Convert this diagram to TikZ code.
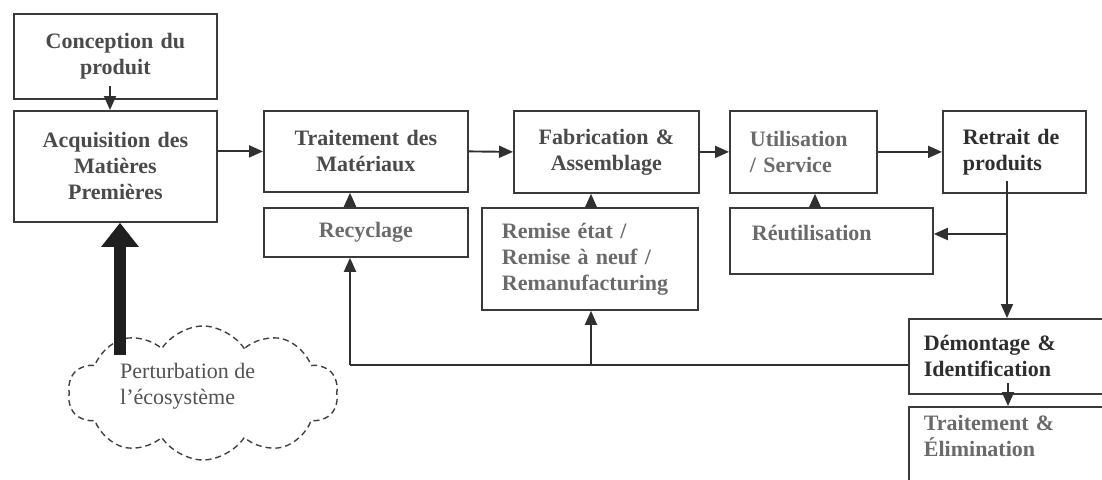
\documentclass[tikz,border=0pt]{standalone}
\usepackage{fontspec}
\setmainfont{Liberation Serif}
\usetikzlibrary{arrows.meta,shapes.symbols}
\definecolor{boxc}{HTML}{3A3A3A}
\definecolor{linec}{HTML}{303030}
\definecolor{txtdark}{HTML}{2E2E2E}
\definecolor{txtmid}{HTML}{4A4A4A}
\definecolor{txtlight}{HTML}{6A6A6A}
\begin{document}
\begin{tikzpicture}[x=1pt,y=-1pt,
  box/.style={draw=boxc, line width=1.8pt, anchor=north west, inner ysep=2pt,
    font=\fontsize{22}{26}\selectfont\bfseries},
  mid/.style={text=txtmid, align=center},
  light/.style={text=txtlight},
  dark/.style={text=txtdark},
  arr/.style={draw=linec, line width=1.9pt, -{Triangle[length=14pt,width=12pt]}},
  plain/.style={draw=linec, line width=1.9pt},
  thick arrow/.style={draw=black!88, line width=12pt, -{Triangle[length=24pt,width=36pt]}},
]
\useasboundingbox (0,0) rectangle (1102,479);
\begin{scope}
\clip (0,0) rectangle (1102,479);

% main chain of boxes
\node[box,mid,minimum width=203pt,minimum height=85pt,text width=185pt] (conc) at (13,13) {Conception du\\produit};
\node[box,mid,minimum width=203pt,minimum height=111pt,text width=185pt] (acq) at (13,110) {Acquisition des\\Matières\\Premières};
\node[box,mid,minimum width=204pt,minimum height=81pt,text width=186pt] (trait) at (263,110) {Traitement des\\Matériaux};
\node[box,mid,minimum width=185pt,minimum height=82pt,text width=167pt] (fab) at (513,110) {Fabrication \&\\Assemblage};
\node[box,light,align=left,inner xsep=20pt,minimum width=147pt,minimum height=82pt,text width=107pt] (util) at (729,110) {Utilisation\\/ Service};
\node[box,dark,align=left,inner xsep=20pt,minimum width=143pt,minimum height=82pt,text width=103pt] (retrait) at (942,110) {Retrait de\\produits};

% recovery boxes
\node[box,light,align=center,minimum width=204pt,minimum height=49pt,text width=186pt] (recy) at (263,207) {Recyclage};
\node[box,light,align=left,inner xsep=20pt,minimum width=216pt,minimum height=102pt,text width=176pt] (remise) at (481,207) {Remise état /\\Remise à neuf /\\Remanufacturing};
\node[box,light,align=left,inner xsep=22pt,minimum width=203pt,text height=31pt,text depth=31pt,text width=159pt] (reut) at (729,207) {Réutilisation};
\node[box,dark,align=left,inner xsep=15pt,minimum width=240pt,minimum height=75pt,text width=210pt] (demont) at (908,318) {Démontage \&\\Identification};
\node[box,light,align=left,inner xsep=15pt,inner ysep=8pt,minimum width=240pt,text depth=70pt,text width=210pt] (elim) at (908,406) {Traitement \&\\Élimination};

% ecosystem cloud
\node[cloud, draw=black!75, dashed, dash pattern=on 6pt off 4pt, line width=1.4pt,
  cloud puffs=10, cloud puff arc=115, aspect=2,
  minimum width=270pt, minimum height=134pt] (cloud) at (203,393) {};
\node[anchor=north west, inner sep=0pt, align=left, text=black!68,
  font=\fontsize{22}{26}\selectfont] (ptxt) at (120,363) {Perturbation de\\l’écosystème};

% routing points
\coordinate (thk) at (120,355);
\coordinate (c1) at (350,365);
\coordinate (c2) at (591,365);
\coordinate (c3) at (815,240);
\coordinate (c4) at (1007,234);
\coordinate (r0) at (1007,181);
\coordinate (d0) at (1008,383);
\coordinate (k0) at (110,86);

% forward flow
\draw[arr] (k0) -- (k0 |- acq.north);
\draw[arr] (acq.east |- trait.west) -- (trait.west);
\draw[arr] (trait.east) -- (fab.west);
\draw[arr] (fab.east) -- (util.west);
\draw[arr] (util.east) -- (retrait.west);

% recovery loops
\draw[arr] (c1 |- recy.north) -- (c1 |- trait.south);
\draw[arr] (c2 |- remise.north) -- (c2 |- fab.south);
\draw[arr] (c3 |- reut.north) -- (c3 |- util.south);
\draw[arr] (r0) -- (c4 |- demont.north);
\draw[arr] (c4) -- (c4 -| reut.east);
\draw[arr] (d0) -- (d0 |- elim.north);
\draw[plain] (c1 -| demont.west) -- (c1);
\draw[arr] (c1) -- (c1 |- recy.south);
\draw[arr] (c2) -- (c2 |- remise.south);

% ecosystem pressure
\draw[thick arrow] (thk) -- (thk |- acq.south);
\end{scope}
\end{tikzpicture}
\end{document}
